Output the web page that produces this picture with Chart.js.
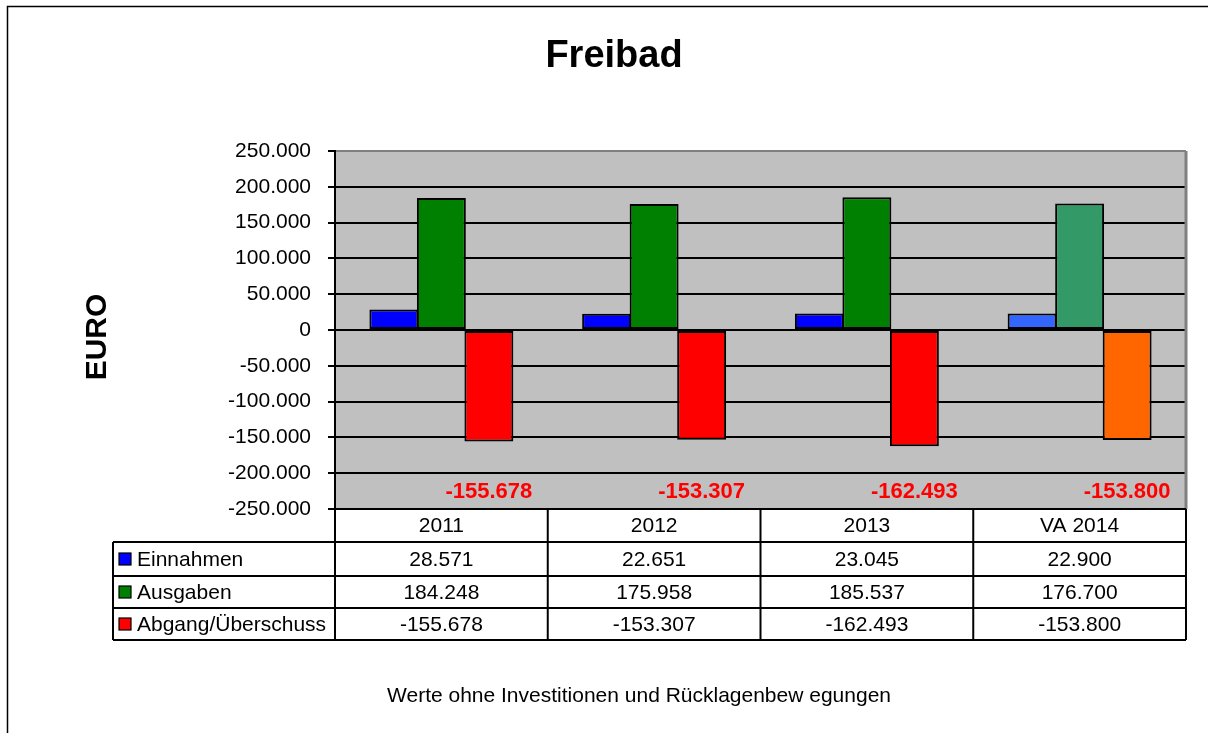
<!DOCTYPE html>
<html>
<head>
<meta charset="utf-8">
<script src="https://cdn.jsdelivr.net/npm/chart.js@4/dist/chart.umd.min.js"></script>
<style>
  html, body { margin: 0; padding: 0; background: #ffffff; }
  #wrap { width: 1208px; height: 733px; position: relative; }
</style>
</head>
<body>
<div id="wrap"><canvas id="c" width="1208" height="733"></canvas></div>
<script>
// ---- data ----
const categories = ['2011', '2012', '2013', 'VA 2014'];
const einnahmen = [28571, 22651, 23045, 22900];
const ausgaben = [184248, 175958, 185537, 176700];
const abgang = [-155678, -153307, -162493, -153800];
const seriesNames = ['Einnahmen', 'Ausgaben', 'Abgang/Überschuss'];
const yMin = -250000, yMax = 250000, yStep = 50000;
const titleText = 'Freibad';
const yTitle = 'EURO';
const footerText = 'Werte ohne Investitionen und Rücklagenbew egungen';

// ---- styles ----
const FONT = "'Liberation Sans', Arial, sans-serif";
const colEin = ['#0000FF', '#0000FF', '#0000FF', '#3366FF'];
const colAus = ['#008000', '#008000', '#008000', '#339966'];
const colAbg = ['#FF0000', '#FF0000', '#FF0000', '#FF6600'];
const legendColors = ['#0000FF', '#008000', '#FF0000'];

function fmt(n) {
  const neg = n < 0;
  let s = String(Math.abs(Math.round(n)));
  s = s.replace(/\B(?=(\d{3})+(?!\d))/g, '.');
  return (neg ? '-' : '') + s;
}

const decorPlugin = {
  id: 'decor',
  beforeDraw(chart) {
    const { ctx, chartArea: a } = chart;
    ctx.save();
    ctx.fillStyle = '#C0C0C0';
    ctx.fillRect(a.left, a.top, a.right - a.left, a.bottom - a.top);
    ctx.restore();
  },
  afterDraw(chart) {
    const { ctx, chartArea: a } = chart;
    const xs = chart.scales.x;
    const ys = chart.scales.y;
    ctx.save();

    // outer frame
    ctx.strokeStyle = '#000';
    ctx.lineWidth = 1.5;
    ctx.beginPath();
    ctx.moveTo(7.5, 733);
    ctx.lineTo(7.5, 6.5);
    ctx.lineTo(1208, 6.5);
    ctx.stroke();

    // plot right border (gray)
    ctx.strokeStyle = '#808080';
    ctx.lineWidth = 3;
    ctx.beginPath();
    ctx.moveTo(a.right, a.top);
    ctx.lineTo(a.right, a.bottom);
    ctx.stroke();

    // title
    ctx.fillStyle = '#000';
    ctx.textAlign = 'center';
    ctx.textBaseline = 'middle';
    ctx.font = 'bold 38px ' + FONT;
    ctx.fillText(titleText, 614, 57);

    // y title
    ctx.save();
    ctx.translate(98, 337);
    ctx.rotate(-Math.PI / 2);
    ctx.font = 'bold 30px ' + FONT;
    ctx.fillText(yTitle, 0, 0);
    ctx.restore();

    // footer
    ctx.font = '21px ' + FONT;
    ctx.fillText(footerText, 639, 696);

    // data labels for Abgang
    ctx.font = 'bold 22px ' + FONT;
    ctx.fillStyle = '#FF0000';
    const meta = chart.getDatasetMeta(2);
    meta.data.forEach((bar, i) => {
      ctx.fillText(fmt(abgang[i]), bar.x, ys.getPixelForValue(-226000));
    });

    // data table
    const n = categories.length;
    const catW = (xs.right - xs.left) / n;
    const tTop = a.bottom;
    const rows = [tTop, tTop + 33, tTop + 67, tTop + 99, tTop + 131];
    const leftX = 113;
    ctx.strokeStyle = '#000';
    ctx.lineWidth = 2;
    ctx.beginPath();
    ctx.moveTo(a.left, rows[0]); ctx.lineTo(a.right, rows[0]);
    for (let r = 1; r < rows.length; r++) {
      ctx.moveTo(leftX, rows[r]); ctx.lineTo(a.right, rows[r]);
    }
    ctx.moveTo(leftX, rows[1]); ctx.lineTo(leftX, rows[4]);
    for (let i = 0; i <= n; i++) {
      const x = xs.left + i * catW;
      ctx.moveTo(x, rows[0]); ctx.lineTo(x, rows[4]);
    }
    ctx.stroke();

    ctx.fillStyle = '#000';
    ctx.font = '21px ' + FONT;
    ctx.textAlign = 'center';
    ctx.textBaseline = 'middle';
    categories.forEach((c, i) => {
      ctx.fillText(c, xs.getPixelForValue(i), (rows[0] + rows[1]) / 2 + 1);
    });
    const vals = [einnahmen, ausgaben, abgang];
    vals.forEach((arr, r) => {
      const cy = (rows[r + 1] + rows[r + 2]) / 2 + 1;
      arr.forEach((v, i) => {
        ctx.fillText(fmt(v), xs.getPixelForValue(i), cy);
      });
    });
    ctx.textAlign = 'left';
    seriesNames.forEach((name, r) => {
      const cy = (rows[r + 1] + rows[r + 2]) / 2;
      ctx.fillStyle = legendColors[r];
      ctx.fillRect(119, cy - 6, 12, 12);
      ctx.strokeStyle = '#000';
      ctx.lineWidth = 1.2;
      ctx.strokeRect(119, cy - 6, 12, 12);
      ctx.fillStyle = '#000';
      ctx.fillText(name, 137, cy + 1);
    });

    ctx.restore();
  }
};

new Chart(document.getElementById('c'), {
  type: 'bar',
  data: {
    labels: categories,
    datasets: [
      { label: seriesNames[0], data: einnahmen, backgroundColor: colEin },
      { label: seriesNames[1], data: ausgaben, backgroundColor: colAus },
      { label: seriesNames[2], data: abgang, backgroundColor: colAbg }
    ]
  },
  options: {
    responsive: false,
    animation: false,
    devicePixelRatio: 1,
    layout: { padding: { top: 151, bottom: 224, left: 0, right: 22 } },
    datasets: {
      bar: {
        borderColor: '#000',
        borderWidth: 2,
        borderSkipped: false,
        categoryPercentage: 0.67,
        barPercentage: 1.03
      }
    },
    plugins: {
      legend: { display: false },
      title: { display: false },
      tooltip: { enabled: false }
    },
    scales: {
      x: { display: false, offset: true },
      y: {
        min: yMin,
        max: yMax,
        afterFit(scale) { scale.width = 335; },
        ticks: {
          stepSize: yStep,
          color: '#000',
          padding: 17,
          font: { family: FONT, size: 21 },
          callback: v => fmt(v)
        },
        grid: {
          color: c => (c.tick && c.tick.value === yMax) ? '#808080' : '#000',
          tickColor: '#000',
          lineWidth: 2,
          tickLength: 7,
          drawTicks: true
        },
        border: { color: '#000', width: 2 }
      }
    }
  },
  plugins: [decorPlugin]
});
</script>
</body>
</html>
